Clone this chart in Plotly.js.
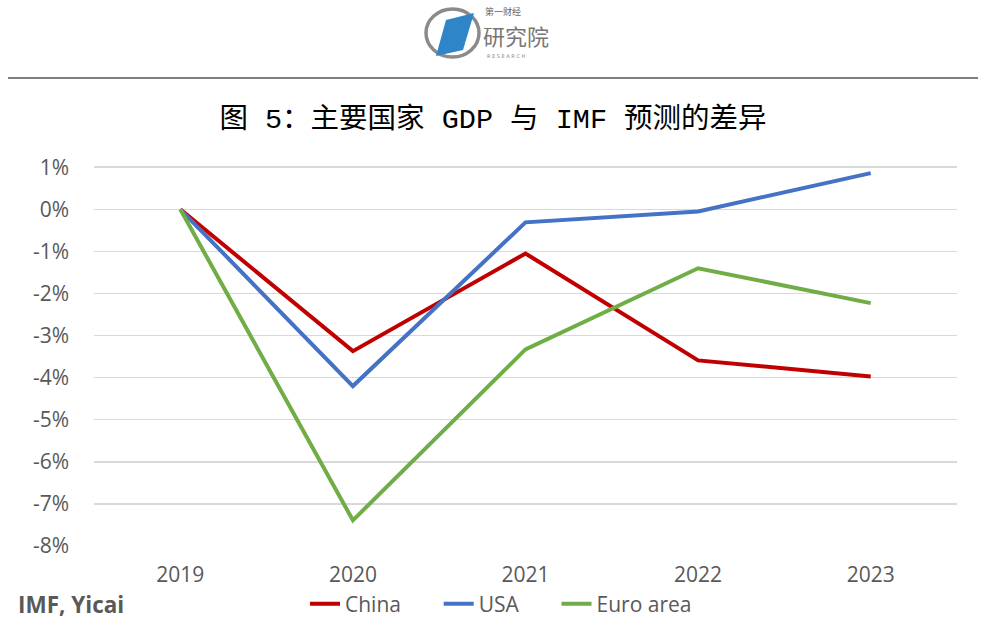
<!DOCTYPE html>
<html>
<head>
<meta charset="utf-8">
<script src="https://cdn.plot.ly/plotly-3.0.1.min.js"></script>
<style>html,body{margin:0;padding:0;background:#fff;}#chart{width:990px;height:629px;}</style>
</head>
<body>
<div id="chart"></div>
<script>
const years = ['2019', '2020', '2021', '2022', '2023'];
const china = [0, -3.37, -1.05, -3.59, -3.97];
const usa = [0, -4.2, -0.31, -0.05, 0.86];
const euroArea = [0, -7.39, -3.33, -1.4, -2.23];
const yTickVals = [1, 0, -1, -2, -3, -4, -5, -6, -7, -8];
const yTickText = ['1%', '0%', '-1%', '-2%', '-3%', '-4%', '-5%', '-6%', '-7%', '-8%'];
const seriesNames = ['China', 'USA', 'Euro area'];
const seriesColors = ['#C00000', '#4472C4', '#70AD47'];
const titleText = '图 5：主要国家 GDP 与 IMF 预测的差异';
const sourceText = 'IMF, Yicai';

const W = 990, H = 629;
const m = {l: 94, r: 33, t: 163, b: 83};
const pw = W - m.l - m.r, ph = H - m.t - m.b;
const px = x => (x - m.l) / pw;
const py = y => (H - m.b - y) / ph;

const pad = '\u00a0'.repeat(6);
const allSeries = [china, usa, euroArea];
const traces = allSeries.map((vals, i) => ({
  x: years, y: vals, type: 'scatter', mode: 'lines',
  name: seriesNames[i] + (i < allSeries.length - 1 ? pad : ''),
  line: {color: seriesColors[i], width: 4}, hoverinfo: 'skip'
}));

const gray = '#595959';
const tickFont = {family: '"Open Sans", sans-serif', size: 21, color: gray};
const layout = {
  width: W, height: H,
  margin: m,
  paper_bgcolor: '#fff', plot_bgcolor: '#fff',
  showlegend: true,
  font: {family: '"Open Sans", sans-serif', color: gray, size: 21},
  title: {
    text: titleText, x: 493 / W, xanchor: 'center', xref: 'container',
    yref: 'container', y: 1 - 118 / H, yanchor: 'middle',
    font: {family: '"Liberation Mono", "Noto Sans CJK SC", monospace', size: 28.5, color: '#000'}
  },
  xaxis: {
    type: 'category', range: [-0.5, 4.5], showgrid: false, zeroline: false, automargin: false,
    showline: false, ticks: '', tickfont: tickFont, ticklabelstandoff: 14
  },
  yaxis: {
    range: [-8, 1.1], tickvals: yTickVals, ticktext: yTickText, automargin: false,
    showgrid: true, gridcolor: '#D9D9D9', gridwidth: 1.5, zeroline: false,
    showline: false, ticks: '', tickfont: tickFont, ticklabelstandoff: 24
  },
  legend: {
    orientation: 'h', x: 501 / W, xref: 'container', xanchor: 'center',
    y: 1 - 604 / H, yref: 'container', yanchor: 'middle',
    font: {family: '"Open Sans", sans-serif', size: 21, color: gray}, bgcolor: 'rgba(0,0,0,0)', itemwidth: 30
  },
  annotations: [
    {text: '<b>' + sourceText + '</b>', xref: 'paper', yref: 'paper', x: px(16), y: py(604),
     xanchor: 'left', yanchor: 'middle', showarrow: false, font: {family: '"Open Sans", sans-serif', size: 22.5, color: gray}},
    {text: '第一财经', xref: 'paper', yref: 'paper', x: px(484), y: py(12), xanchor: 'left', yanchor: 'middle', borderpad: 0,
     showarrow: false, font: {family: '"Noto Sans CJK SC"', size: 9, color: '#666'}},
    {text: '研究院', xref: 'paper', yref: 'paper', x: px(482), y: py(35), xanchor: 'left', yanchor: 'middle', borderpad: 0,
     showarrow: false, font: {family: '"Noto Sans CJK SC"', size: 22, color: '#777'}},
    {text: 'R E S E A R C H', xref: 'paper', yref: 'paper', x: px(486), y: py(56), xanchor: 'left', yanchor: 'middle', borderpad: 0,
     showarrow: false, font: {family: 'DejaVu Sans', size: 5, color: '#888'}}
  ],
  shapes: [
    {type: 'line', xref: 'paper', yref: 'paper', x0: px(8), x1: px(978), y0: py(78), y1: py(78),
     line: {color: '#555', width: 1.5}},
    {type: 'circle', xref: 'paper', yref: 'paper', x0: px(426), x1: px(479), y0: py(9), y1: py(57),
     line: {color: '#8a8a8a', width: 3.5}},
    {type: 'path', xref: 'paper', yref: 'paper',
     path: `M ${px(446)} ${py(20)} L ${px(474)} ${py(13)} L ${px(463)} ${py(50)} L ${px(436)} ${py(56)} Z`,
     fillcolor: '#2E86C8', line: {width: 0}}
  ]
};

Plotly.newPlot('chart', traces, layout, {displayModeBar: false, staticPlot: true});
</script>
</body>
</html>
